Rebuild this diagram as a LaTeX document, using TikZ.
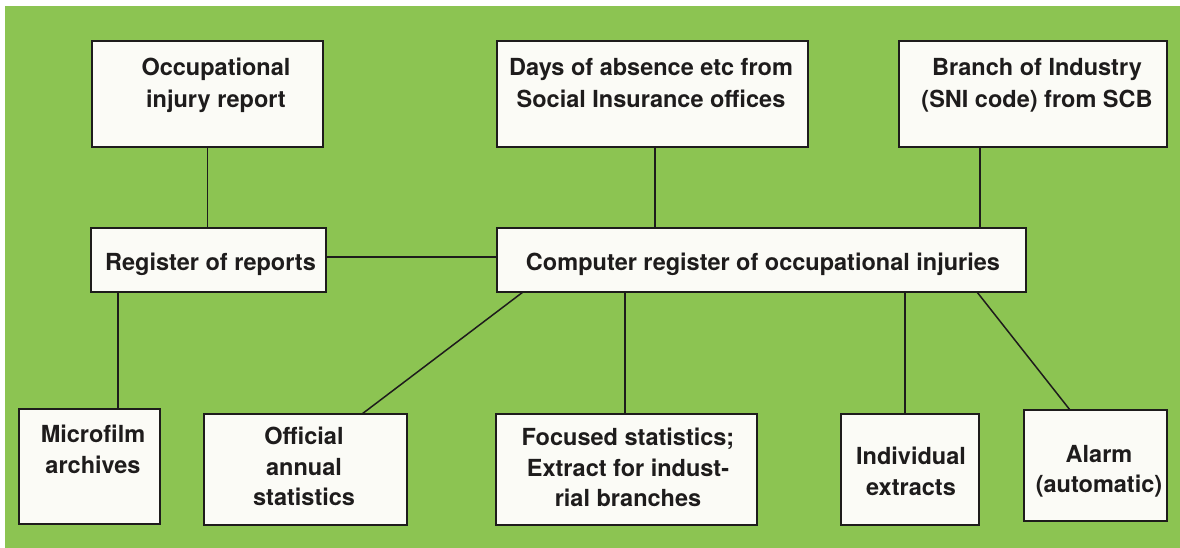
\documentclass[tikz,border=0pt]{standalone}
\usepackage{fontspec}
\setmainfont{TeX Gyre Heros}
\usetikzlibrary{calc}
\definecolor{bggreen}{RGB}{140,196,82}
\definecolor{boxwhite}{RGB}{251,251,246}
\definecolor{inkcol}{RGB}{30,28,28}
\begin{document}
\begin{tikzpicture}[x=1pt,y=-1pt,
  boxnode/.style={draw=inkcol,line width=1.7pt,fill=boxwhite,inner sep=0pt,outer sep=0pt,anchor=north west},
  txtnode/.style={inner sep=0pt,anchor=north,align=center,text=inkcol,font=\fontsize{23.5}{30.5}\selectfont\bfseries},
  toptxt/.style={txtnode,font=\fontsize{23.5}{32}\selectfont\bfseries},
  link/.style={draw=inkcol,line width=1.5pt}]
\useasboundingbox (0,0) rectangle (1180,548);
\fill[white] (0,0) rectangle (1180,548);
\fill[bggreen] (5,6) rectangle (1180,548);
% boxes
\node[boxnode,minimum width=231pt,minimum height=106pt] (occ) at (92,41) {};
\node[boxnode,minimum width=311pt,minimum height=106pt] (days) at (497,41) {};
\node[boxnode,minimum width=268pt,minimum height=106pt] (branch) at (899,41) {};
\node[boxnode,minimum width=235pt,minimum height=64pt] (reg) at (91,228) {};
\node[boxnode,minimum width=529pt,minimum height=64pt] (comp) at (497,228) {};
\node[boxnode,minimum width=141pt,minimum height=115pt] (micro) at (19,409) {};
\node[boxnode,minimum width=203pt,minimum height=111pt] (offi) at (204,414) {};
\node[boxnode,minimum width=261pt,minimum height=111pt] (focu) at (496,414) {};
\node[boxnode,minimum width=138pt,minimum height=111pt] (indiv) at (841,414) {};
\node[boxnode,minimum width=143pt,minimum height=111pt] (alarm) at (1024,410) {};
% texts
\node[toptxt] (occT) at (216,58) {Occupational\\injury report};
\node[toptxt] (daysT) at (651,58) {Days of absence etc from\\Social Insurance offices};
\node[toptxt] (branchT) at (1037,58) {Branch of Industry\\(SNI code) from SCB};
\node[txtnode] (regT) at (210.5,252.5) {Register of reports};
\node[txtnode] (compT) at (763,252.5) {Computer register of occupational injuries};
\node[txtnode] (microT) at (93,425) {Microfilm\\archives};
\node[txtnode] (offiT) at (304,427) {Official\\annual\\statistics};
\node[txtnode] (focuT) at (628,428) {Focused statistics;\\Extract for indust-\\rial branches};
\node[txtnode] (indivT) at (911,447) {Individual\\extracts};
\node[txtnode] (alarmT) at (1099,445) {Alarm\\(automatic)};
% connectors
\draw[link] (occ.south) -- (occ.south |- reg.north);
\draw[link] ([xshift=-90.5pt]reg.south) -- ([xshift=28.5pt]micro.north);
\draw[link] ([yshift=3pt]reg.east) -- ([yshift=3pt]comp.west);
\draw[link] ([xshift=2.5pt]days.south) -- ([xshift=2.5pt]days.south |- comp.north);
\draw[link] ([xshift=-53pt]branch.south) -- ([xshift=-53pt]branch.south |- comp.north);
\draw[link] ([xshift=-238.5pt]comp.south) -- ([xshift=56.5pt]offi.north);
\draw[link] ([xshift=-1.5pt]focu.north) -- ([xshift=-1.5pt]focu.north |- comp.south);
\draw[link] ([xshift=-5pt]indiv.north) -- ([xshift=-5pt]indiv.north |- comp.south);
\draw[link] ([xshift=215.5pt]comp.south) -- ([xshift=-25.5pt]alarm.north);
\end{tikzpicture}
\end{document}
